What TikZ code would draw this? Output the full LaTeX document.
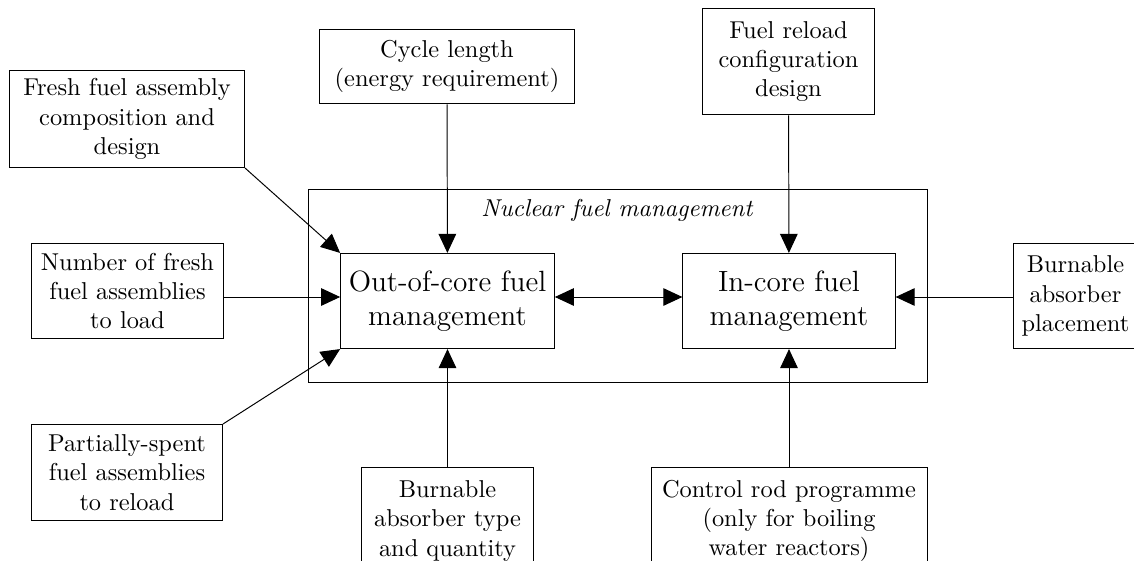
\documentclass[tikz,border=0pt]{standalone}
\usepackage{tikz}
\usetikzlibrary{arrows.meta}

\begin{document}
\begin{tikzpicture}[x=0.0144cm, y=-0.0144cm]
\tikzstyle{box}=[rectangle, draw, align=center, inner sep=3.33pt]
\tikzstyle{core}=[rectangle, draw, align=center, font=\large,
                        minimum width=87pt, minimum height=39pt]
\tikzstyle{arr}=[-{Triangle[length=7.8pt, width=7.2pt]}]
\tikzstyle{darr}=[{Triangle[length=7.8pt, width=7.2pt]}-{Triangle[length=7.8pt, width=7.2pt]}]
\useasboundingbox (0,0) rectangle (1134,561);
	% management block
	\draw (308,189) rectangle (927,382);
	\node[font=\itshape] (nfm) at (617,210){Nuclear fuel management};
	\node[core] (ooc) at (447.5,301){Out-of-core fuel\\management};
	\node[core] (ic) at (789,301){In-core fuel\\management};
	\coordinate (lvl) at (0,297);
	% inputs
	\node[box, minimum width=96.3pt, minimum height=39.3pt, anchor=south east] (fresh) at (245,168){Fresh fuel assembly\\composition and\\design};
	\node[box, minimum width=78.3pt, minimum height=39.3pt] (number) at (127.5,291){Number of fresh\\fuel assemblies\\to load};
	\node[box, minimum width=78.3pt, minimum height=39.3pt, anchor=north east] (partial) at (223,424){Partially-spent\\fuel assemblies\\to reload};
	\node[box, minimum width=104.9pt, minimum height=30.7pt] (cycle) at (447,66.5){Cycle length\\(energy requirement)};
	\node[box, minimum width=70.1pt, minimum height=43.8pt] (reload) at (788.5,61.5){Fuel reload\\configuration\\design};
	\node[box, minimum height=43.4pt, anchor=west] (place) at (1013,296){Burnable\\absorber\\placement};
	\node[box, minimum width=70.1pt, minimum height=43.8pt, anchor=north] (type) at (447.5,467){Burnable\\absorber type\\and quantity};
	\node[box, minimum width=113.1pt, minimum height=43.8pt, anchor=north] (rod) at (789,467){Control rod programme\\(only for boiling\\water reactors)};
\draw[arr] (fresh.south east)--(ooc.north west);
\draw[arr] (number.east |- lvl)--(ooc.west |- lvl);
\draw[arr] (partial.north east)--(ooc.south west);
\draw[arr] (cycle)--(ooc);
\draw[arr] (type)--(ooc);
\draw[arr] (reload)--(ic);
\draw[arr] (rod)--(ic);
\draw[arr] (place.west |- lvl)--(ic.east |- lvl);
\draw[darr] (ooc.east |- lvl)--(ic.west |- lvl);
\end{tikzpicture}
\end{document}
